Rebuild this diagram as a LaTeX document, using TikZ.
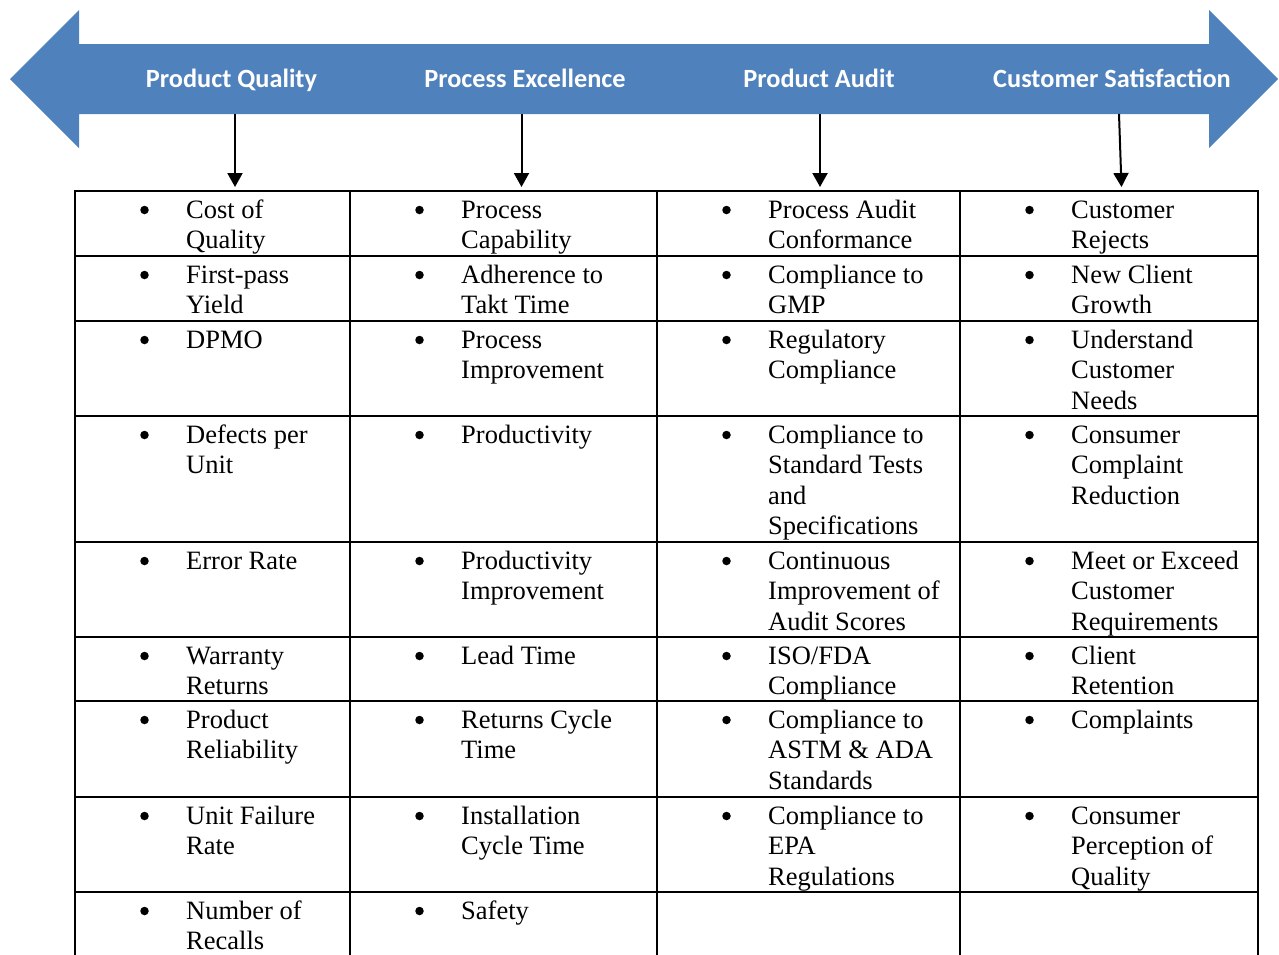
\documentclass[tikz,border=0pt]{standalone}
\usepackage{fontspec}
\setmainfont{Liberation Serif}
\newfontfamily\calibri{Carlito}
\usetikzlibrary{arrows.meta}

\definecolor{ribbon}{HTML}{4F81BD}

\tikzset{
  head/.style={text=white, anchor=base, inner sep=0,
    font=\calibri\bfseries\fontsize{26.3}{30}\selectfont},
  kpitext/.style={anchor=north west, align=left, inner sep=0,
    font=\fontsize{26.5}{30.5}\selectfont},
  dot/.style={circle, fill=black, inner sep=0, minimum size=8.5pt},
  grid/.style={line width=2pt},
  down/.style={line width=2pt, -{Triangle[width=15pt,length=14pt]}}
}

% one bullet entry: name, column left, row top, text
\newcommand{\kpi}[4]{%
  \node[dot] (#1b) at (#2+69.5,#3+19) {};
  \node[kpitext] (#1) at (#2+111,#3+5.65) {\strut #4};
}

\begin{document}
\begin{tikzpicture}[x=1pt, y=-1pt]
    \useasboundingbox (0,0) rectangle (1279,954);
    \clip (0,0) rectangle (1279,954);

    % Double arrow
    \fill[ribbon] (10,79) -- (79,10) -- (79,44) -- (1209,44) -- (1209,10)
        -- (1278,79) -- (1209,148) -- (1209,114) -- (79,114) -- (79,148) -- cycle;

    % Headings
    \node[head] (pq) at (231.5,87) {Product Quality};
    \node[head] (pe) at (525,87) {Process Excellence};
    \node[head] (pa) at (819,87) {Product Audit};
    \node[head] (cs) at (1112,87) {Customer Satisfaction};

    % Arrows down to the table
    \coordinate (pq-s) at (235,114);   \coordinate (pq-e) at (235,187);
    \coordinate (pe-s) at (521.5,114); \coordinate (pe-e) at (521.5,187);
    \coordinate (pa-s) at (820,114);   \coordinate (pa-e) at (820,187);
    \coordinate (cs-s) at (1119,114);  \coordinate (cs-e) at (1121.5,187);
    \draw[down] (pq-s) -- (pq-e);
    \draw[down] (pe-s) -- (pe-e);
    \draw[down] (pa-s) -- (pa-e);
    \draw[down] (cs-s) -- (cs-e);

    % Table grid
    \foreach \y in {191,256,321,416,542,637,701,797,892}
        \draw[grid] (74,\y) -- (1259,\y);
    \foreach \x in {75,350,657,960,1258}
        \draw[grid] (\x,190) -- (\x,960);

    % Product Quality
    \kpi{q1}{75}{191}{Cost of\\Quality}
    \kpi{q2}{75}{256}{First-pass\\Yield}
    \kpi{q3}{75}{321}{DPMO}
    \kpi{q4}{75}{416}{Defects per\\Unit}
    \kpi{q5}{75}{542}{Error Rate}
    \kpi{q6}{75}{637}{Warranty\\Returns}
    \kpi{q7}{75}{701}{Product\\Reliability}
    \kpi{q8}{75}{797}{Unit Failure\\Rate}
    \kpi{q9}{75}{892}{Number of\\Recalls}

    % Process Excellence
    \kpi{e1}{350}{191}{Process\\Capability}
    \kpi{e2}{350}{256}{Adherence to\\Takt Time}
    \kpi{e3}{350}{321}{Process\\Improvement}
    \kpi{e4}{350}{416}{Productivity}
    \kpi{e5}{350}{542}{Productivity\\Improvement}
    \kpi{e6}{350}{637}{Lead Time}
    \kpi{e7}{350}{701}{Returns Cycle\\Time}
    \kpi{e8}{350}{797}{Installation\\Cycle Time}
    \kpi{e9}{350}{892}{Safety}

    % Product Audit
    \kpi{a1}{657}{191}{Process Audit\\Conformance}
    \kpi{a2}{657}{256}{Compliance to\\GMP}
    \kpi{a3}{657}{321}{Regulatory\\Compliance}
    \kpi{a4}{657}{416}{Compliance to\\Standard Tests\\and\\Specifications}
    \kpi{a5}{657}{542}{Continuous\\Improvement of\\Audit Scores}
    \kpi{a6}{657}{637}{ISO/FDA\\Compliance}
    \kpi{a7}{657}{701}{Compliance to\\ASTM \& ADA\\Standards}
    \kpi{a8}{657}{797}{Compliance to\\EPA\\Regulations}

    % Customer Satisfaction
    \kpi{c1}{960}{191}{Customer\\Rejects}
    \kpi{c2}{960}{256}{New Client\\Growth}
    \kpi{c3}{960}{321}{Understand\\Customer\\Needs}
    \kpi{c4}{960}{416}{Consumer\\Complaint\\Reduction}
    \kpi{c5}{960}{542}{Meet or Exceed\\Customer\\Requirements}
    \kpi{c6}{960}{637}{Client\\Retention}
    \kpi{c7}{960}{701}{Complaints}
    \kpi{c8}{960}{797}{Consumer\\Perception of\\Quality}
\end{tikzpicture}
\end{document}
